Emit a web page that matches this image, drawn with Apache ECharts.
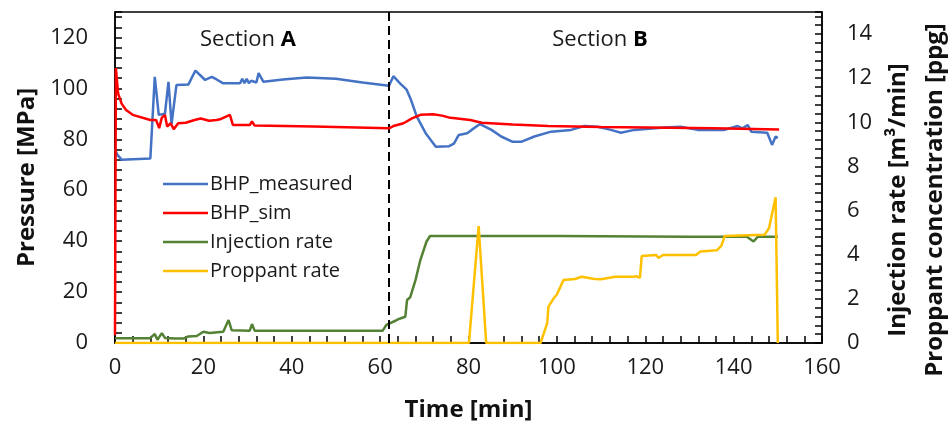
<!DOCTYPE html>
<html>
<head>
<meta charset="utf-8">
<script src="https://cdn.jsdelivr.net/npm/echarts@6/dist/echarts.min.js"></script>
<style>html,body{margin:0;padding:0;background:#fff}#c{width:951px;height:433px}</style>
</head>
<body>
<div id="c"></div>
<script>
// ---- data ----
const seriesNames = ['BHP_measured', 'BHP_sim', 'Injection rate', 'Proppant rate'];
const sectionBoundary = 62; // min
const sectionLabels = ['A', 'B'];

const bhpMeasTime = [0,0.5,1.5,8,9,9.9,11.3,12.1,12.8,13.9,16.6,18.2,20.4,21.9,23,24.5,28.3,28.8,29.3,29.8,30.3,30.8,32,32.5,33.6,38,43.4,50,56,62,63,64.5,66,67,68.3,70.3,72.6,75.6,76.7,77.8,79.7,80.7,82.6,85.2,87.4,90,91.9,94.9,98.7,103.2,106.2,109.2,112.2,114.5,117.5,124.3,128,131.8,137.9,140.9,142,143.2,144,147.6,148.7,149.5,150];
const bhpMeasVal  = [76,74,72,72.5,104.5,89.6,90,102.6,86,101.3,101.5,107,103.3,104.5,103.5,102,102,103.8,102,103.8,102,103,102.3,106,102.6,103.5,104.3,103.8,102.3,101,104.8,102,99.5,95.4,88.9,82.4,77.1,77.3,78.3,81.7,82.4,83.7,86,83.7,81.1,79,79,81.1,83,83.7,85.2,84.9,83.7,82.6,83.7,84.6,84.9,83.7,83.7,85.2,84.3,85.6,83,82.6,77.8,81.1,80.5];

const bhpSimTime = [0,0.2,0.7,1.5,2.5,4,8,9.3,10,10.6,11.3,11.8,12.6,13.3,14.3,16,18,19.4,21.3,23,24,26,26.7,30.5,31,31.6,45,62,63,65.3,67.2,69.1,72,74,75.5,80.4,83,90,98,110,120.5,135.6,150.3];
const bhpSimVal  = [3,108,98,94,91.5,89.6,87.6,87.6,84.4,88.5,89.6,85,86.3,84,86.3,86.5,87.6,88.2,87.3,87.6,88,89.6,85.6,85.6,87,85.4,85,84.3,85.2,86.3,88.2,89.6,89.8,89.3,88.6,87.6,86.5,85.8,85.2,84.8,84.6,84.3,83.9];

const injTime = [0,7.9,9,9.6,10.6,11.3,13.6,15.5,16.6,18.5,20,21.4,24.5,25.7,26.4,30.5,31,31.6,60.6,61.4,63.6,64.4,65.7,66.1,66.8,68,69.1,70.5,71.3,100,130,143,144.5,145.5,150];
const injVal  = [0.21,0.21,0.41,0.15,0.45,0.23,0.2,0.2,0.3,0.32,0.51,0.45,0.51,1.04,0.58,0.56,0.86,0.56,0.56,0.82,1.02,1.1,1.19,1.95,2.07,2.85,3.76,4.6,4.85,4.85,4.82,4.82,4.6,4.82,4.82];

const propTime = [0,80.1,82.3,84,96.3,97.8,98.1,99.3,100,101.5,104.1,105.6,108.6,110,113.2,117.3,118.1,118.8,119.2,122.5,123,124,131.5,132.5,136.2,137.2,138,147,148,149.5,149.9,150];
const propVal  = [0,0,5.3,0,0,0.89,1.65,2.03,2.2,2.85,2.9,3.0,2.9,2.89,3.0,3.0,3.02,2.95,3.94,3.99,3.85,3.99,3.99,4.15,4.2,4.4,4.85,4.9,5.2,6.6,6.6,0];

const xTickLabels = [0,20,40,60,80,100,120,140,160];
const leftTickLabels = [0,20,40,60,80,100,120];
const rightTickLabels = [0,2,4,6,8,10,12,14];

// ---- chart ----
const pair = (ts, vs) => ts.map((t, i) => [t, vs[i]]);
const FONT = 'Open Sans';
const near = (v, arr) => arr.some(a => Math.abs(a - v) < 1e-6);

const chart = echarts.init(document.getElementById('c'), null, {renderer: 'canvas'});
chart.setOption({
  animation: false,
  backgroundColor: '#fff',
  textStyle: {fontFamily: FONT},
  grid: {left: 115, right: 129, top: 12, bottom: 90, show: true, borderColor: '#000', borderWidth: 1.5, backgroundColor: 'transparent'},
  legend: {
    orient: 'vertical', left: 158, top: 169, itemWidth: 45, itemHeight: 14, itemGap: 9,
    icon: 'path://M0,6 L45,6 L45,8.5 L0,8.5 Z',
    textStyle: {fontFamily: FONT, fontSize: 20, color: '#1a1a1a', lineHeight: 20, padding: [0,0,0,-3]},
    data: seriesNames
  },
  xAxis: {
    type: 'value', min: 0, max: 160, interval: 4,
    name: 'Time [min]', nameLocation: 'middle', nameGap: 55,
    nameTextStyle: {fontFamily: FONT, fontSize: 24, fontWeight: 'bold', color: '#111'},
    axisLine: {lineStyle: {color: '#000', width: 1.5}},
    axisTick: {inside: true, length: 7, lineStyle: {color: '#000', width: 1.5}},
    axisLabel: {margin: 14, fontSize: 22, color: '#1a1a1a', fontFamily: FONT,
      formatter: v => near(v, xTickLabels) ? String(Math.round(v)) : ''},
    splitLine: {show: false}
  },
  yAxis: [{
    type: 'value', min: 0, max: 130, interval: 4, position: 'left',
    name: 'Pressure [MPa]', nameLocation: 'middle', nameRotate: 90, nameGap: 72,
    nameTextStyle: {fontFamily: FONT, fontSize: 24, fontWeight: 'bold', color: '#111'},
    axisLine: {show: true, lineStyle: {color: '#000', width: 1.5}},
    axisTick: {inside: true, length: 7, lineStyle: {color: '#000', width: 1.5}},
    axisLabel: {margin: 27, fontSize: 22, color: '#1a1a1a', fontFamily: FONT,
      formatter: v => near(v, leftTickLabels) ? String(Math.round(v)) : ''},
    splitLine: {show: false}
  }, {
    type: 'value', min: 0, max: 15, interval: 0.4, position: 'right',
    axisLine: {show: true, lineStyle: {color: '#000', width: 1.5}},
    axisTick: {inside: true, length: 7, lineStyle: {color: '#000', width: 1.5}},
    axisLabel: {margin: 25, fontSize: 22, color: '#1a1a1a', fontFamily: FONT,
      formatter: v => near(v, rightTickLabels) ? String(Math.round(v)) : ''},
    splitLine: {show: false}
  }],
  graphic: [
    {type: 'text', x: 248, y: 40, style: {text: 'Section {b|' + sectionLabels[0] + '}', fontFamily: FONT, fontSize: 22, fill: '#1a1a1a', align: 'center', verticalAlign: 'middle',
      rich: {b: {fontFamily: FONT, fontSize: 22, fontWeight: 'bold', fill: '#000'}}}},
    {type: 'text', x: 600, y: 40, style: {text: 'Section {b|' + sectionLabels[1] + '}', fontFamily: FONT, fontSize: 22, fill: '#1a1a1a', align: 'center', verticalAlign: 'middle',
      rich: {b: {fontFamily: FONT, fontSize: 22, fontWeight: 'bold', fill: '#000'}}}},
    {type: 'text', x: 898, y: 200, rotation: Math.PI / 2, style: {text: 'Injection rate [m³/min]', fontFamily: FONT, fontSize: 24, fontWeight: 'bold', fill: '#111', align: 'center', verticalAlign: 'middle'}},
    {type: 'text', x: 935, y: 200, rotation: Math.PI / 2, style: {text: 'Proppant concentration [ppg]', fontFamily: FONT, fontSize: 24, fontWeight: 'bold', fill: '#111', align: 'center', verticalAlign: 'middle'}}
  ],
  series: [
    {name: seriesNames[0], type: 'line', yAxisIndex: 0, showSymbol: false, symbol: 'none', z: 4,
      lineStyle: {color: '#4472C4', width: 2.5}, itemStyle: {color: '#4472C4'},
      data: pair(bhpMeasTime, bhpMeasVal),
      markLine: {symbol: 'none', silent: true, label: {show: false},
        lineStyle: {color: '#000', type: [9, 5], width: 2}, data: [{xAxis: sectionBoundary}]}},
    {name: seriesNames[1], type: 'line', yAxisIndex: 0, showSymbol: false, symbol: 'none', z: 5,
      lineStyle: {color: '#FF0000', width: 2.5}, itemStyle: {color: '#FF0000'},
      data: pair(bhpSimTime, bhpSimVal)},
    {name: seriesNames[2], type: 'line', yAxisIndex: 1, showSymbol: false, symbol: 'none', z: 3,
      lineStyle: {color: '#548235', width: 2.5}, itemStyle: {color: '#548235'},
      data: pair(injTime, injVal)},
    {name: seriesNames[3], type: 'line', yAxisIndex: 1, showSymbol: false, symbol: 'none', z: 3,
      lineStyle: {color: '#FFC000', width: 2.5}, itemStyle: {color: '#FFC000'},
      data: pair(propTime, propVal)}
  ]
});
</script>
</body>
</html>
